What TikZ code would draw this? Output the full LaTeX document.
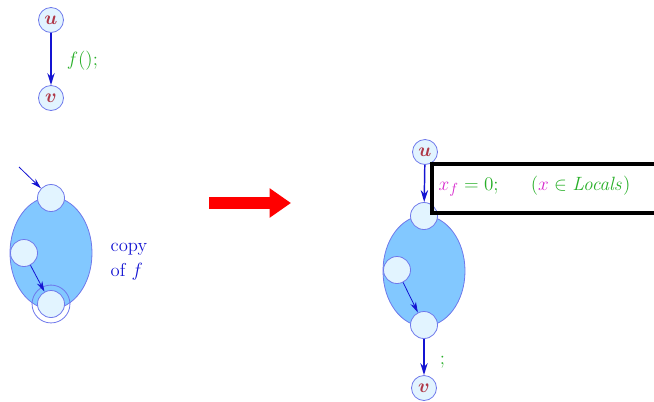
\documentclass[tikz,border=0pt]{standalone}
\usepackage{amsmath}
\usepackage{amssymb}
\usepackage{xcolor}
\usetikzlibrary{arrows.meta}

\definecolor{nodefill}{RGB}{226,244,255}
\definecolor{nodeline}{RGB}{110,120,235}
\definecolor{blobfill}{RGB}{130,200,255}
\definecolor{flowblue}{RGB}{20,20,210}
\definecolor{namered}{RGB}{175,55,70}
\definecolor{codegreen}{RGB}{40,175,40}
\definecolor{varpink}{RGB}{215,40,205}

\tikzset{
  state/.style={circle, draw=nodeline, fill=nodefill, line width=0.6pt,
    minimum size=18.75pt, inner sep=0pt, text=namered},
  point/.style={circle, draw=nodeline, fill=nodefill, line width=0.6pt,
    minimum size=20.25pt, inner sep=0pt},
  blob/.style={draw=nodeline, fill=blobfill, line width=0.6pt},
  flow/.style={draw=flowblue, line width=1.1pt, -{Stealth[length=9pt,width=5.5pt]}},
  thinflow/.style={draw=flowblue, line width=0.6pt, -{Stealth[length=8pt,width=4.5pt]}},
  lab/.style={font=\fontsize{15.5}{19}\selectfont, text=codegreen, anchor=west}
}

\begin{document}
\begin{tikzpicture}[x=0.75pt, y=-0.75pt, font=\fontsize{15.5}{19}\selectfont]
    \clip (0,0) rectangle (654,401);

    % call edge
    \node[state] (u1) at (51,20) {$\boldsymbol{u}$};
    \node[state] (v1) at (51,98) {$\boldsymbol{v}$};
    \draw[flow] (u1) -- (v1) node[lab, midway, xshift=8pt, yshift=-1pt] {$f();$};

    % copy of f
    \draw[blob] (51,253) ellipse [x radius=30.75pt, y radius=42pt];
    \node[point] (top1) at (51,198) {};
    \node[point] (mid1) at (24,253) {};
    \node[point] (bot1) at (51,304) {};
    \draw[nodeline, line width=0.6pt] (bot1) circle (14.2pt);
    \coordinate (in1) at (19,167);
    \draw[thinflow] (in1) -- (top1);
    \draw[thinflow] (mid1) -- (bot1);
    \node[anchor=north west, align=left, text=flowblue,
          font=\fontsize{14}{19}\selectfont] (copy) at (106,238) {copy\\of $f$};

    % transformation
    \coordinate (arrL) at (209,203);
    \coordinate (arrR) at (291,203);
    \draw[red, line width=8.5pt, -{Triangle[length=16pt,width=21pt]}] (arrL) -- (arrR);

    % inlined call
    \draw[blob] (424,271) ellipse [x radius=30.75pt, y radius=41.5pt];
    \node[state] (u2) at (425,152) {$\boldsymbol{u}$};
    \node[point] (top2) at (424,216) {};
    \node[point] (mid2) at (397,270) {};
    \node[point] (bot2) at (424,325) {};
    \node[state] (v2) at (424,388) {$\boldsymbol{v}$};
    \draw[flow] (u2) -- (top2);
    \draw[thinflow] (mid2) -- (bot2);
    \draw[flow] (bot2) -- (v2) node[lab, midway, xshift=8pt, yshift=-4pt] {$;$};

    % initialisation box
    \draw[line width=2.3pt] (432,164) rectangle (670,213);
    \node[lab] (init) at (434,186)
      {$\color{varpink}x_f\color{codegreen} = 0;\hspace{1.4em}
        (\color{varpink}x\color{codegreen} \in \mathit{Locals})$};
\end{tikzpicture}
\end{document}
